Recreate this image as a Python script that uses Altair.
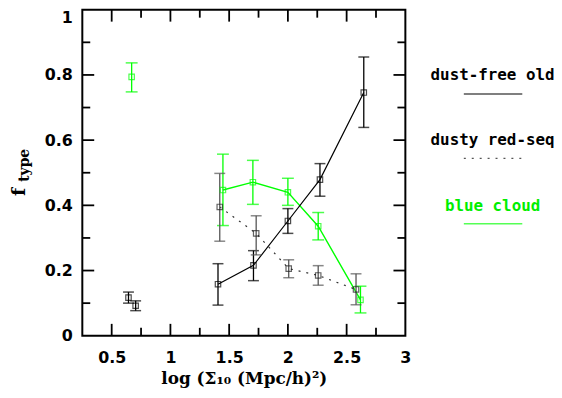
import altair as alt
import pandas as pd

# ---- data ----
old_x = [1.405, 1.707, 2.000, 2.273, 2.646]
old_y = [0.158, 0.216, 0.352, 0.479, 0.746]
old_lo = [0.094, 0.169, 0.314, 0.428, 0.639]
old_hi = [0.221, 0.261, 0.390, 0.528, 0.855]

dusty_x = [1.420, 1.730, 2.007, 2.258, 2.580]
dusty_y = [0.395, 0.314, 0.206, 0.185, 0.142]
dusty_lo = [0.290, 0.248, 0.178, 0.155, 0.095]
dusty_hi = [0.498, 0.368, 0.233, 0.215, 0.190]

blue_x = [1.447, 1.702, 2.000, 2.258, 2.618]
blue_y = [0.447, 0.471, 0.440, 0.336, 0.110]
blue_lo = [0.338, 0.403, 0.400, 0.294, 0.070]
blue_hi = [0.557, 0.538, 0.483, 0.378, 0.152]

# low-density (field) points, not connected
field_x = [0.643, 0.704, 0.670]
field_y = [0.117, 0.092, 0.794]
field_lo = [0.100, 0.077, 0.748]
field_hi = [0.134, 0.107, 0.837]
field_type = ["old", "dusty", "blue"]

x_major = [0.5, 1.0, 1.5, 2.0, 2.5]
x_minor = [0.75, 1.25, 1.75, 2.25, 2.75]
y_major = [0.2, 0.4, 0.6, 0.8]
y_minor = [0.1, 0.3, 0.5, 0.7, 0.9]
x_labels = [0.5, 1, 1.5, 2, 2.5, 3]
y_labels = [0, 0.2, 0.4, 0.6, 0.8, 1]

W, H = 326, 329
GREEN = "#00ff00"

xs = alt.Scale(domain=[0.25, 3], nice=False, zero=False)
ys = alt.Scale(domain=[0, 1], nice=False, zero=False)

xaxis = alt.Axis(
    values=x_labels, format="~g", ticks=False, domain=False, grid=False,
    labelFont="DejaVu Sans", labelFontWeight="bold", labelFontSize=16,
    labelColor="black", labelPadding=14, labelFlush=False,
    title="log (Σ₁₀ (Mpc/h)²)", titleFont="DejaVu Serif", titleFontWeight="bold",
    titleFontSize=17, titleColor="black", titlePadding=5)
yaxis = alt.Axis(
    values=y_labels, format="~g", ticks=False, domain=False, grid=False,
    labelFont="DejaVu Sans", labelFontWeight="bold", labelFontSize=16,
    labelColor="black", labelPadding=10, labelFlush=False, title="",
    labelBaseline=alt.condition("datum.value == 1", alt.value("top"), alt.value("middle")))


def X(f):
    return alt.X(f, scale=xs, axis=xaxis)


def Y(f):
    return alt.Y(f, scale=ys, axis=yaxis)


def series_df(x, y, lo, hi):
    return pd.DataFrame({"x": x, "y": y, "lo": lo, "hi": hi})


def errbars(df, color, cap=11):
    base = alt.Chart(df)
    bar = base.mark_rule(color=color, strokeWidth=1.3).encode(
        x=X("x:Q"), y=Y("lo:Q"), y2="hi:Q",
    )
    top = base.mark_tick(color=color, orient="horizontal", size=cap, thickness=1.5).encode(
        x=X("x:Q"), y=Y("hi:Q")
    )
    bot = base.mark_tick(color=color, orient="horizontal", size=cap, thickness=1.5).encode(
        x=X("x:Q"), y=Y("lo:Q")
    )
    return bar + top + bot


def points(df, color):
    return alt.Chart(df).mark_square(filled=False, size=30, color=color, strokeWidth=1.2).encode(
        x=X("x:Q"), y=Y("y:Q")
    )


def line(df, color, dash=None, width=1.2):
    kw = {}
    if dash:
        kw["strokeDash"] = dash
    return alt.Chart(df).mark_line(color=color, strokeWidth=width, **kw).encode(
        x=X("x:Q"), y=Y("y:Q"), order="x:Q",
    )


old = series_df(old_x, old_y, old_lo, old_hi)
dusty = series_df(dusty_x, dusty_y, dusty_lo, dusty_hi)
blue = series_df(blue_x, blue_y, blue_lo, blue_hi)
field = pd.DataFrame({"x": field_x, "y": field_y, "lo": field_lo, "hi": field_hi, "t": field_type})
field_black = field[field.t != "blue"]
field_blue = field[field.t == "blue"]

axis_layer = alt.Chart(pd.DataFrame({"x": [0.25, 3], "y": [0, 1]})).mark_point(opacity=0).encode(
    x=X("x:Q"), y=Y("y:Q"))


# inward ticks on all four sides
def xticks(vals, length):
    d = pd.DataFrame({"v": vals})
    b = alt.Chart(d).mark_rule(color="black", strokeWidth=1.8)
    return (b.encode(x=X("v:Q"), y=alt.value(H), y2=alt.value(H - length))
            + b.encode(x=X("v:Q"), y=alt.value(0), y2=alt.value(length)))


def yticks(vals, length):
    d = pd.DataFrame({"v": vals})
    b = alt.Chart(d).mark_rule(color="black", strokeWidth=1.8)
    return (b.encode(y=Y("v:Q"), x=alt.value(0), x2=alt.value(length))
            + b.encode(y=Y("v:Q"), x=alt.value(W), x2=alt.value(W - length)))


ticks = xticks(x_major, 12) + xticks(x_minor, 8) + yticks(y_major, 12) + yticks(y_minor, 8)

# y-axis title f_type
ytitle = (
    alt.Chart(pd.DataFrame({"t": ["f"]})).mark_text(
        angle=270, font="DejaVu Serif", fontWeight="bold", fontSize=19, color="black",
        baseline="middle"
    ).encode(text="t:N", x=alt.value(-64), y=alt.value(184))
    + alt.Chart(pd.DataFrame({"t": ["type"]})).mark_text(
        angle=270, font="DejaVu Serif", fontWeight="bold", fontSize=14, color="black",
        baseline="middle"
    ).encode(text="t:N", x=alt.value(-58), y=alt.value(157))
)

# legend at right
leg_names = ["dust-free old", "dusty red-seq", "blue cloud"]
leg_colors = ["black", "black", "#00ee00"]
leg_text_y = [66, 132, 198]
legend = None
for name, col, ty in zip(leg_names, leg_colors, leg_text_y):
    t = alt.Chart(pd.DataFrame({"t": [name]})).mark_text(
        font="DejaVu Sans Mono", fontWeight="bold", fontSize=16, color=col
    ).encode(text="t:N", x=alt.value(414), y=alt.value(ty))
    legend = t if legend is None else legend + t

leg_lines = (
    alt.Chart(pd.DataFrame({"a": [0]})).mark_rule(color="#555555", strokeWidth=1.5).encode(
        x=alt.value(385), x2=alt.value(444), y=alt.value(85))
    + alt.Chart(pd.DataFrame({"a": [0]})).mark_rule(color="#555555", strokeWidth=1.5, strokeDash=[2, 6]).encode(
        x=alt.value(385), x2=alt.value(444), y=alt.value(150))
    + alt.Chart(pd.DataFrame({"a": [0]})).mark_rule(color="#55ff55", strokeWidth=1.5).encode(
        x=alt.value(385), x2=alt.value(444), y=alt.value(216))
)

chart = alt.layer(
    axis_layer,
    ticks,
    line(blue, GREEN, width=1.4),
    line(old, "black"),
    line(dusty, "#333333", dash=[2, 6]),
    errbars(blue, GREEN, cap=12),
    errbars(old, "black", cap=11),
    errbars(dusty, "#555555", cap=11),
    errbars(field_black, "black", cap=11),
    errbars(field_blue, GREEN, cap=12),
    points(blue, GREEN),
    points(old, "black"),
    points(dusty, "#222222"),
    points(field_black, "black"),
    points(field_blue, GREEN),
    ytitle,
    legend,
    leg_lines,
).properties(
    width=W, height=H,
    autosize=alt.AutoSizeParams(type="none"),
    padding={"left": 75, "top": 0, "right": 150, "bottom": 53},
).configure_view(stroke="black", strokeWidth=2)

chart.save("out.html", embed_options={"renderer": "svg", "actions": False})
